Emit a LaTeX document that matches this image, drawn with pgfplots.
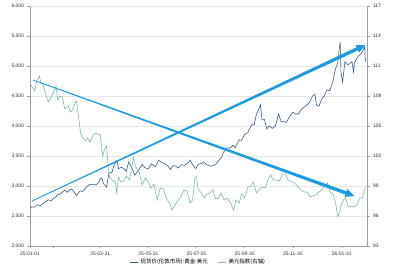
\documentclass[border=0pt]{standalone}
\usepackage{fontspec}
\setmainfont{Liberation Sans}
\newfontfamily\cjk{Noto Sans CJK SC}
\usepackage{pgfplots}
\pgfplotsset{compat=1.18}
\usetikzlibrary{calc}
\definecolor{goldc}{HTML}{375E86}
\definecolor{dxyc}{HTML}{7DB8AE}
\definecolor{arrc}{HTML}{1E9BE3}
\definecolor{axc}{HTML}{A0A0A0}
\pgfplotsset{base/.style={scale only axis, width=337bp, height=240bp, xmin=0, xmax=427,
  ticklabel style={font=\fontsize{5}{6}\selectfont, text=black!80},
  /pgf/number format/assume math mode=true,
  tick align=outside, major tick length=2.5bp,
  tick style={axc, line width=0.4pt}, axis line style={axc, line width=0.5pt}}}
\newcommand{\taparrow}[2]{%
  \coordinate (C) at ($(#2)!9bp!(#1)$);
  \fill[arrc] ($(#1)!0.4bp!90:(#2)$) -- ($(C)!1.7bp!-90:(#1)$) -- ($(C)!4.2bp!-90:(#1)$) -- (#2)
     -- ($(C)!4.2bp!90:(#1)$) -- ($(C)!1.7bp!90:(#1)$) -- ($(#1)!0.4bp!-90:(#2)$) -- cycle;}
\begin{document}
\begin{tikzpicture}
\begin{axis}[base, name=main, ymin=2000, ymax=6000, ytick={2000,2500,...,6000},
  axis x line*=bottom, axis y line*=left, ymajorgrids, grid style={gray!18, line width=0.4pt},
  xtick={0,30,89,150,211,272,333,395},
  xticklabels={25-01-01,,25-03-31,25-05-31,25-07-31,25-09-30,25-11-30,26-01-31},
  /pgf/number format/1000 sep={,}]
\addplot[goldc, line width=0.6pt] coordinates {
(0,2624)(2,2650)(6,2650)(9,2690)(13,2670)(16,2705)(20,2740)(23,2770)(27,2755)(30,2800)
(33,2815)(35,2865)(38,2860)(41,2900)(44,2930)(47,2895)(50,2935)(53,2950)(57,2880)(59,2840)
(63,2915)(67,2910)(72,2990)(76,3030)(80,3020)(84,3020)(88,3085)(89,3120)(91,3135)(93,3040)
(97,2985)(100,3220)(104,3230)(106,3330)(110,3420)(111,3380)(112,3290)(116,3310)(119,3290)
(122,3240)(125,3400)(128,3330)(133,3180)(134,3200)(139,3290)(142,3360)(146,3300)(150,3290)
(154,3370)(159,3320)(163,3430)(167,3390)(171,3370)(175,3330)(178,3275)(181,3340)(184,3335)
(188,3300)(192,3355)(196,3345)(201,3395)(203,3430)(207,3335)(210,3290)(213,3360)(217,3375)
(220,3400)(224,3355)(229,3330)(232,3340)(236,3370)(240,3440)(243,3480)(245,3560)(250,3640)
(253,3630)(257,3680)(260,3640)(265,3770)(268,3760)(272,3860)(276,3890)(279,3980)(281,4020)
(284,4020)(287,4200)(289,4250)(292,4355)(294,4100)(297,4110)(300,3950)(303,4000)(307,3960)
(311,4000)(315,4200)(318,4080)(322,4070)(325,4060)(329,4160)(333,4230)(336,4200)(340,4200)
(344,4280)(346,4300)(350,4340)(354,4390)(358,4500)(361,4530)(363,4350)(366,4330)(370,4460)
(373,4500)(376,4600)(380,4590)(384,4750)(387,4950)(390,5050)(392,5300)(393,5400)(394,4900)
(396,4730)(399,5070)(403,5020)(408,5070)(410,4900)(411,5050)(415,5150)(420,5210)(424,5320)(425,5070)
};
\end{axis}
\begin{axis}[base, ymin=93, ymax=117, ytick={93,96,...,117},
  axis y line*=right, axis x line=none,
  legend style={at={(0.5,-0.067)}, anchor=center, draw=none, fill=none,
    font=\cjk\fontsize{5.5}{6}\selectfont, legend columns=2,
    /tikz/every even column/.append style={column sep=8bp}},
  legend image code/.code={\draw[#1, line width=0.8pt] (0bp,0bp) -- (8bp,0bp);}]
\addlegendimage{goldc}
\addlegendentry{现货价(伦敦市场):黄金:美元}
\addplot[dxyc, line width=0.6pt] coordinates {
(0,109.2)(2,109.0)(6,108.5)(9,109.6)(12,110.0)(14,109.2)(16,109.3)(19,108.4)(23,107.4)(27,107.9)
(30,108.4)(33,109.0)(35,107.6)(38,108.0)(41,107.9)(44,106.7)(49,107.0)(51,106.4)(54,106.6)
(57,107.3)(59,107.5)(62,105.6)(64,104.3)(67,103.8)(70,103.5)(73,103.8)(76,103.4)(80,104.1)
(84,104.3)(87,104.1)(89,104.2)(92,102.0)(95,102.8)(97,103.0)(99,100.9)(101,99.8)(104,99.6)
(108,99.4)(110,98.3)(112,99.9)(115,99.4)(119,99.5)(122,100.0)(126,99.6)(131,101.8)(134,100.9)
(138,100.5)(142,99.1)(146,99.8)(150,99.4)(153,98.8)(157,99.2)(161,97.6)(165,98.8)(169,98.7)
(173,97.7)(177,97.3)(180,96.6)(183,97.0)(187,97.5)(191,97.9)(195,98.6)(199,98.5)(203,97.3)
(206,97.6)(209,99.9)(211,99.9)(213,98.7)(217,98.3)(221,97.8)(224,98.2)(228,98.3)(232,98.6)
(235,97.7)(239,97.8)(242,98.3)(246,97.6)(250,97.8)(254,97.3)(258,96.6)(261,97.6)(265,97.3)
(268,98.2)(272,97.8)(276,98.9)(280,99.0)(283,99.4)(287,98.3)(290,98.6)(294,98.9)(298,98.8)
(302,99.7)(305,100.1)(308,99.6)(312,99.6)(316,99.5)(320,100.2)(323,100.2)(327,99.6)(332,99.4)
(335,99.3)(339,99.0)(343,98.6)(347,98.4)(351,98.4)(355,97.9)(358,98.0)(362,98.1)(366,98.4)
(370,98.6)(374,99.1)(377,99.3)(380,98.4)(384,98.2)(387,97.4)(390,95.9)(392,96.3)(394,97.0)
(397,97.6)(400,97.8)(403,96.9)(406,97.0)(410,96.9)(414,97.1)(418,97.8)(421,97.8)(425,98.9)
};
\addlegendentry{美元指数(右轴)}
\coordinate (GA) at (axis cs:2.5,97.5);
\coordinate (GB) at (axis cs:425,113.1);
\coordinate (DA) at (axis cs:4,109.6);
\coordinate (DB) at (axis cs:411,98.0);
\end{axis}
\taparrow{GA}{GB}
\taparrow{DA}{DB}
\pgfresetboundingbox
\path ([shift={(-30bp,-21bp)}]main.south west) rectangle ([shift={(26bp,6bp)}]main.north east);
\end{tikzpicture}
\end{document}
